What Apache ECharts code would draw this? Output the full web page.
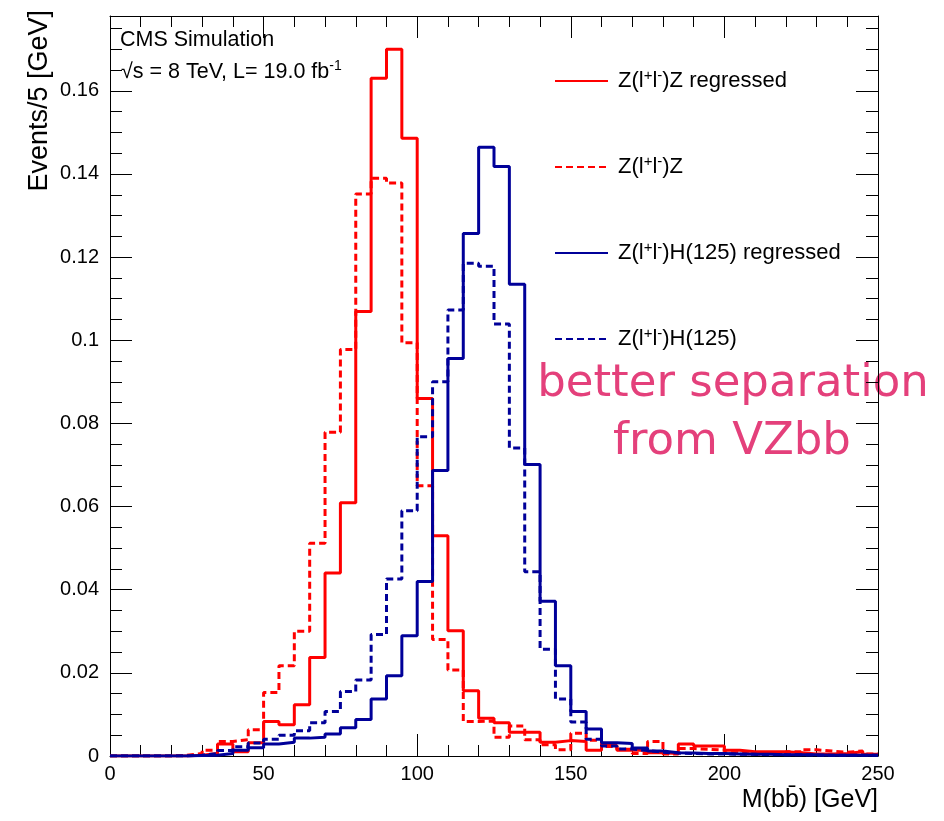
<!DOCTYPE html>
<html>
<head>
<meta charset="utf-8">
<script src="https://cdn.jsdelivr.net/npm/echarts@6/dist/echarts.min.js"></script>
<style>
  html, body { margin: 0; padding: 0; background: #fff; }
  #chart { width: 944px; height: 821px; }
</style>
</head>
<body>
<div id="chart"></div>
<script>
// lower edges of the 5 GeV bins
const binLow = [0, 5, 10, 15, 20, 25, 30, 35, 40, 45, 50, 55, 60, 65, 70, 75, 80, 85, 90, 95,
  100, 105, 110, 115, 120, 125, 130, 135, 140, 145, 150, 155, 160, 165, 170, 175, 180, 185, 190, 195,
  200, 205, 210, 215, 220, 225, 230, 235, 240, 245]
const binHigh = 250

// Z(ll)Z regressed (red solid)
const zzRegressed = [0, 0, 0, 0, 0, 0.0002, 0.0006, 0.0029, 0.0010, 0.0032,
  0.0083, 0.0075, 0.0123, 0.0237, 0.0440, 0.0609, 0.1069, 0.1630, 0.1700, 0.1486,
  0.0860, 0.0530, 0.0301, 0.0157, 0.0091, 0.0080, 0.0057, 0.0057, 0.0033, 0.0037,
  0.0035, 0.0014, 0.0025, 0.0014, 0.0014, 0.0008, 0.0006, 0.0029, 0.0024, 0.0024,
  0.0014, 0.0010, 0.0010, 0.0010, 0.0008, 0.0005, 0.0005, 0.0006, 0.0010, 0.0004]
// Z(ll)Z (red dashed)
const zzRaw = [0, 0, 0, 0, 0.0002, 0.0006, 0.0014, 0.0035, 0.0039, 0.0063,
  0.0153, 0.0217, 0.0300, 0.0512, 0.0779, 0.0978, 0.1352, 0.1390, 0.1378, 0.0994,
  0.0650, 0.0280, 0.0207, 0.0083, 0.0084, 0.0045, 0.0072, 0.0039, 0.0027, 0.0015,
  0.0055, 0.0038, 0.0023, 0.0016, 0.0006, 0.0035, 0.0005, 0.0018, 0.0016, 0.0014,
  0.0008, 0.0004, 0.0006, 0.0004, 0.0010, 0.0015, 0.0012, 0.0009, 0.0012, 0.0005]
// Z(ll)H(125) regressed (blue solid)
const zhRegressed = [0, 0, 0, 0, 0, 0.0001, 0.0002, 0.0006, 0.0014, 0.0020,
  0.0029, 0.0033, 0.0043, 0.0045, 0.0053, 0.0068, 0.0088, 0.0137, 0.0193, 0.0289,
  0.0420, 0.0687, 0.0956, 0.1257, 0.1464, 0.1418, 0.1135, 0.0701, 0.0372, 0.0217,
  0.0107, 0.0065, 0.0032, 0.0030, 0.0019, 0.0012, 0.0008, 0.0007, 0.0006, 0.0006,
  0.0005, 0.0004, 0.0004, 0.0003, 0.0003, 0.0003, 0.0002, 0.0002, 0.0002, 0.0002]
// Z(ll)H(125) (blue dashed)
const zhRaw = [0, 0, 0, 0, 0, 0.0002, 0.0006, 0.0013, 0.0022, 0.0031,
  0.0040, 0.0050, 0.0061, 0.0080, 0.0107, 0.0155, 0.0183, 0.0292, 0.0426, 0.0590,
  0.0768, 0.0900, 0.1073, 0.1185, 0.1178, 0.1039, 0.0741, 0.0443, 0.0257, 0.0137,
  0.0082, 0.0040, 0.0024, 0.0017, 0.0013, 0.0009, 0.0007, 0.0006, 0.0005, 0.0005,
  0.0004, 0.0004, 0.0003, 0.0003, 0.0003, 0.0002, 0.0002, 0.0002, 0.0002, 0.0002]

const seriesNames = ['Z(l+l-)Z regressed', 'Z(l+l-)Z', 'Z(l+l-)H(125) regressed', 'Z(l+l-)H(125)']
const xTicks = [0, 50, 100, 150, 200, 250]
const yTicks = [0, 0.02, 0.04, 0.06, 0.08, 0.1, 0.12, 0.14, 0.16]

const font = '"Liberation Sans", Arial, Helvetica, sans-serif'
const red = '#ff0000'
const blue = '#000099'

// rich text styles for the ROOT-like superscripts
const legendRich = {
  t: { fontSize: 22, fontFamily: font, color: '#000', lineHeight: 26 },
  sup: { fontSize: 15, fontFamily: font, color: '#000', lineHeight: 14, verticalAlign: 'top' }
}
const labelRich = {
  t: { fontSize: 21.5, fontFamily: font, color: '#000', lineHeight: 26 },
  sup: { fontSize: 14, fontFamily: font, color: '#000', lineHeight: 14, verticalAlign: 'top' }
}
const withSup = name => '{t|' + name.replace('l+l-', 'l}{sup|+}{t|l}{sup|-}{t|') + '}'

// histogram as a step line through the lower bin edges
const toSteps = vals => {
  const pts = binLow.map((x, i) => [x, vals[i]])
  pts.push([binHigh, vals[vals.length - 1]])
  return pts
}

const histSeries = (name, vals, color, dashed) => ({
  name: name,
  type: 'line',
  step: 'end',
  symbol: 'none',
  data: toSteps(vals),
  lineStyle: { color: color, width: 3, type: dashed ? [7, 4] : 'solid' },
  itemStyle: { color: color },
  animation: false
})

const frameAxis = (extra) => Object.assign({
  type: 'value',
  axisLine: { show: true, onZero: false, lineStyle: { color: '#000', width: 1 } },
  axisTick: { show: true, inside: true, length: 22, lineStyle: { color: '#000', width: 1 } },
  splitLine: { show: false },
  minorSplitLine: { show: false }
}, extra)

const fmtY = v => {
  const hit = yTicks.find(t => Math.abs(t - v) < 1e-9)
  return hit === undefined ? '' : String(hit)
}

const chart = echarts.init(document.getElementById('chart'))

const option = {
  backgroundColor: '#fff',
  animation: false,
  grid: { left: 110, right: 66, top: 16, bottom: 65, containLabel: false },
  xAxis: [
    frameAxis({
      position: 'bottom', min: 0, max: 250, interval: 50,
      minorTick: { show: true, splitNumber: 5, length: 11, lineStyle: { color: '#000' } },
      axisLabel: {
        color: '#000', fontSize: 20, fontFamily: font, margin: 8,
        formatter: v => xTicks.includes(v) ? String(v) : ''
      }
    }),
    frameAxis({
      position: 'top', min: 0, max: 250, interval: 50,
      minorTick: { show: true, splitNumber: 5, length: 11, lineStyle: { color: '#000' } },
      axisLabel: { show: false }
    })
  ],
  yAxis: [
    frameAxis({
      position: 'left', min: 0, max: 0.178, interval: 0.02,
      minorTick: { show: true, splitNumber: 4, length: 12, lineStyle: { color: '#000' } },
      axisLabel: {
        color: '#000', fontSize: 20, fontFamily: font, margin: 11,
        showMaxLabel: false, formatter: fmtY
      }
    }),
    frameAxis({
      position: 'right', min: 0, max: 0.178, interval: 0.02,
      minorTick: { show: true, splitNumber: 4, length: 12, lineStyle: { color: '#000' } },
      axisLabel: { show: false }
    })
  ],
  legend: {
    orient: 'vertical',
    left: 554,
    top: 68,
    padding: 0,
    itemWidth: 53,
    itemHeight: 14,
    itemGap: 62,
    selectedMode: false,
    data: seriesNames,
    itemStyle: { color: 'transparent', borderWidth: 0, opacity: 0 },
    formatter: withSup,
    textStyle: { color: '#000', fontSize: 22, fontFamily: font, padding: [0, 0, 0, 5], rich: legendRich }
  },
  series: [
    histSeries(seriesNames[0], zzRegressed, red, false),
    histSeries(seriesNames[1], zzRaw, red, true),
    histSeries(seriesNames[2], zhRegressed, blue, false),
    histSeries(seriesNames[3], zhRaw, blue, true)
  ],
  graphic: [
    {
      type: 'text', x: 120, y: 40,
      style: { text: 'CMS Simulation', fill: '#000', font: '21.5px ' + font, verticalAlign: 'middle' }
    },
    {
      type: 'text', x: 121, y: 72,
      style: {
        text: '{t|√s = 8 TeV, L= 19.0 fb}{sup|-1}', verticalAlign: 'middle',
        rich: labelRich
      }
    },
    {
      type: 'text', x: 40, y: 10, rotation: Math.PI / 2,
      style: { text: 'Events/5 [GeV]', fill: '#000', font: '27px ' + font, align: 'right', verticalAlign: 'middle' }
    },
    {
      type: 'text', x: 878, y: 800,
      style: { text: 'M(bb̄) [GeV]', fill: '#000', font: '25px ' + font, align: 'right', verticalAlign: 'middle' }
    },
    {
      type: 'text', x: 733, y: 384,
      style: { text: 'better separation', fill: '#e4407b', font: '45px "DejaVu Sans", sans-serif', align: 'center', verticalAlign: 'middle' }
    },
    {
      type: 'text', x: 732, y: 442,
      style: { text: 'from VZbb', fill: '#e4407b', font: '45px "DejaVu Sans", sans-serif', align: 'center', verticalAlign: 'middle' }
    }
  ]
}

chart.setOption(option)
</script>
</body>
</html>
